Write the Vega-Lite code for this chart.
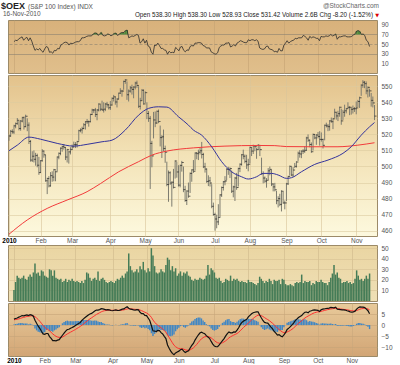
{
"$schema":"https://vega.github.io/schema/vega-lite/v6.json",
"padding":{"left":1,"top":1,"right":0,"bottom":0},
"background":"#ffffff",
"spacing":0,
"config":{"font":"Liberation Sans","view":{"stroke":"#9c8a68","strokeWidth":1},
"axis":{"labelFont":"Liberation Sans","labelFontSize":6.5,"labelColor":"#555","domain":false,"ticks":false,"gridWidth":0.6},
"axisY":{"labelPadding":4,"labelOverlap":false},
"axisX":{"labelPadding":1}},
"datasets":{
"d":[
{"t":0,"h":520,"l":516,"c":519,"v":10.4,"r":55,"m":2.7,"s":2.4,"g":0.3},
{"t":1,"h":522.8,"l":518.5,"c":521.9,"v":18,"r":58,"m":3.0,"s":2.5,"g":0.5},
{"t":2,"h":523.2,"l":520.4,"c":521.5,"v":24,"r":57,"m":3.2,"s":2.6,"g":0.6},
{"t":3,"h":526.0,"l":520.2,"c":525.3,"v":22,"r":61,"m":3.6,"s":2.8,"g":0.8},
{"t":4,"h":527.4,"l":523.8,"c":526.7,"v":21,"r":63,"m":3.9,"s":3.0,"g":0.9},
{"t":5,"h":530.2,"l":526.0,"c":528.8,"v":22,"r":65,"m":4.3,"s":3.3,"g":1.0},
{"t":6,"h":528.5,"l":522.5,"c":523.7,"v":24,"r":58,"m":4.2,"s":3.5,"g":0.7},
{"t":7,"h":529.0,"l":522.3,"c":528.3,"v":21,"r":62,"m":4.4,"s":3.7,"g":0.7},
{"t":8,"h":531.0,"l":527.5,"c":530.4,"v":20,"r":64,"m":4.6,"s":3.9,"g":0.7},
{"t":9,"h":531.2,"l":523.0,"c":524.8,"v":23,"r":57,"m":4.3,"s":4.0,"g":0.3},
{"t":10,"h":532.3,"l":524.5,"c":531.3,"v":25,"r":63,"m":4.7,"s":4.1,"g":0.6},
{"t":11,"h":530.0,"l":522.0,"c":525.8,"v":23,"r":56,"m":4.5,"s":4.2,"g":0.3},
{"t":12,"h":527.5,"l":514.0,"c":515.6,"v":27,"r":46,"m":4.0,"s":4.2,"g":-0.2},
{"t":13,"h":516.5,"l":503.0,"c":504.0,"v":35.6,"r":37,"m":2.2,"s":3.8,"g":-1.6},
{"t":14,"h":509.5,"l":502.8,"c":506.4,"v":26,"r":40,"m":0.8,"s":3.2,"g":-2.4},
{"t":15,"h":510.0,"l":502.5,"c":504.5,"v":27,"r":38,"m":-0.5,"s":2.5,"g":-3.0},
{"t":16,"h":508.5,"l":500.5,"c":506.8,"v":24,"r":41,"m":-1.5,"s":1.7,"g":-3.2},
{"t":17,"h":508.0,"l":499.5,"c":500.8,"v":29,"r":36,"m":-2.8,"s":0.8,"g":-3.6},
{"t":18,"h":506.0,"l":494.8,"c":496.2,"v":28,"r":33,"m":-4.0,"s":-0.2,"g":-3.8},
{"t":19,"h":504.0,"l":496.0,"c":503.6,"v":24,"r":40,"m":-4.2,"s":-1.0,"g":-3.2},
{"t":20,"h":510.8,"l":503.0,"c":509.6,"v":23,"r":45,"m":-3.8,"s":-1.6,"g":-2.2},
{"t":21,"h":510.0,"l":505.5,"c":507.3,"v":22,"r":43,"m":-3.8,"s":-2.0,"g":-1.8},
{"t":22,"h":507.2,"l":490.5,"c":491.1,"v":30,"r":33,"m":-5.2,"s":-2.6,"g":-2.6},
{"t":23,"h":493.0,"l":482.8,"c":492.5,"v":29,"r":34,"m":-6.0,"s":-3.3,"g":-2.7},
{"t":24,"h":494.0,"l":487.0,"c":487.9,"v":24,"r":31,"m":-7.0,"s":-4.0,"g":-3.0},
{"t":25,"h":496.5,"l":487.5,"c":494.3,"v":29,"r":37,"m":-7.0,"s":-4.6,"g":-2.4},
{"t":26,"h":497.0,"l":490.5,"c":493.4,"v":22,"r":36,"m":-7.1,"s":-5.1,"g":-2.0},
{"t":27,"h":498.5,"l":490.8,"c":498.0,"v":21,"r":41,"m":-6.8,"s":-5.4,"g":-1.4},
{"t":28,"h":497.5,"l":490.8,"c":496.7,"v":20,"r":40,"m":-6.6,"s":-5.6,"g":-1.0},
{"t":29,"h":506.3,"l":497.0,"c":505.9,"v":21,"r":48,"m":-5.6,"s":-5.6,"g":0.0},
{"t":30,"h":508.8,"l":504.5,"c":508.2,"v":18,"r":50,"m":-4.6,"s":-5.4,"g":0.8},
{"t":31,"h":511.9,"l":507.0,"c":511.4,"v":19,"r":53,"m":-3.6,"s":-5.0,"g":1.4},
{"t":32,"h":513.0,"l":509.2,"c":512.4,"v":21,"r":54,"m":-2.7,"s":-4.5,"g":1.8},
{"t":33,"h":514.0,"l":510.5,"c":511.9,"v":18,"r":53,"m":-2.0,"s":-4.0,"g":2.0},
{"t":34,"h":512.0,"l":504.0,"c":505.9,"v":20,"r":48,"m":-1.9,"s":-3.6,"g":1.7},
{"t":35,"h":511.0,"l":502.5,"c":510.5,"v":19,"r":52,"m":-1.4,"s":-3.2,"g":1.8},
{"t":36,"h":509.8,"l":501.8,"c":509.1,"v":21,"r":51,"m":-1.1,"s":-2.8,"g":1.7},
{"t":37,"h":512.0,"l":507.5,"c":510.5,"v":19,"r":52,"m":-0.7,"s":-2.4,"g":1.7},
{"t":38,"h":513.7,"l":510.3,"c":512.2,"v":18,"r":54,"m":-0.2,"s":-2.0,"g":1.8},
{"t":39,"h":515.5,"l":511.8,"c":513.6,"v":19,"r":55,"m":0.3,"s":-1.5,"g":1.8},
{"t":40,"h":515.2,"l":511.5,"c":513.6,"v":18,"r":55,"m":0.7,"s":-1.1,"g":1.8},
{"t":41,"h":516.0,"l":511.8,"c":515.5,"v":17,"r":57,"m":1.2,"s":-0.6,"g":1.8},
{"t":42,"h":522.9,"l":516.0,"c":522.3,"v":19,"r":63,"m":2.1,"s":-0.1,"g":2.2},
{"t":43,"h":523.8,"l":521.3,"c":522.8,"v":17,"r":63,"m":2.8,"s":0.5,"g":2.3},
{"t":44,"h":524.8,"l":520.5,"c":523.7,"v":20,"r":64,"m":3.4,"s":1.1,"g":2.3},
{"t":45,"h":527.0,"l":523.2,"c":526.0,"v":27,"r":66,"m":4.0,"s":1.7,"g":2.3},
{"t":46,"h":528.3,"l":523.0,"c":527.9,"v":26,"r":67,"m":4.6,"s":2.3,"g":2.3},
{"t":47,"h":529.6,"l":526.5,"c":527.9,"v":22,"r":67,"m":5.0,"s":2.8,"g":2.2},
{"t":48,"h":528.6,"l":524.8,"c":527.9,"v":19,"r":67,"m":5.3,"s":3.3,"g":2.0},
{"t":49,"h":532.9,"l":527.5,"c":532.4,"v":21,"r":71,"m":5.8,"s":3.8,"g":2.0},
{"t":50,"h":536.0,"l":532.0,"c":535.2,"v":22,"r":73,"m":6.4,"s":4.3,"g":2.1},
{"t":51,"h":535.8,"l":533.4,"c":535.2,"v":20,"r":73,"m":6.8,"s":4.8,"g":2.0},
{"t":52,"h":536.5,"l":530.8,"c":532.4,"v":28,"r":68,"m":6.8,"s":5.2,"g":1.6},
{"t":53,"h":535.8,"l":528.8,"c":535.2,"v":19,"r":71,"m":7.0,"s":5.6,"g":1.4},
{"t":54,"h":539.4,"l":534.3,"c":538.9,"v":21,"r":74,"m":7.4,"s":6.0,"g":1.4},
{"t":55,"h":538.7,"l":534.5,"c":535.7,"v":22,"r":68,"m":7.3,"s":6.3,"g":1.0},
{"t":56,"h":541.0,"l":534.8,"c":535.2,"v":20,"r":67,"m":7.1,"s":6.5,"g":0.6},
{"t":57,"h":540.0,"l":533.6,"c":535.7,"v":18,"r":68,"m":6.9,"s":6.6,"g":0.3},
{"t":58,"h":539.6,"l":534.5,"c":538.9,"v":17,"r":71,"m":7.0,"s":6.7,"g":0.3},
{"t":59,"h":540.3,"l":536.6,"c":538.4,"v":18,"r":70,"m":6.9,"s":6.7,"g":0.2},
{"t":60,"h":539.0,"l":535.5,"c":536.6,"v":19,"r":67,"m":6.6,"s":6.7,"g":-0.1},
{"t":61,"h":540.8,"l":535.2,"c":538.3,"v":18,"r":69,"m":6.5,"s":6.7,"g":-0.2},
{"t":62,"h":543.0,"l":538.0,"c":542.5,"v":17,"r":72,"m":6.7,"s":6.7,"g":0.0},
{"t":63,"h":544.6,"l":540.5,"c":543.4,"v":19,"r":73,"m":6.9,"s":6.7,"g":0.2},
{"t":64,"h":543.6,"l":538.5,"c":540.2,"v":21,"r":68,"m":6.7,"s":6.7,"g":0.0},
{"t":65,"h":542.6,"l":536.8,"c":542.0,"v":20,"r":70,"m":6.6,"s":6.7,"g":-0.1},
{"t":66,"h":546.0,"l":541.8,"c":545.7,"v":22,"r":73,"m":6.9,"s":6.7,"g":0.2},
{"t":67,"h":548.8,"l":545.2,"c":547.0,"v":24,"r":74,"m":7.2,"s":6.8,"g":0.4},
{"t":68,"h":547.8,"l":543.5,"c":547.0,"v":22,"r":74,"m":7.3,"s":6.9,"g":0.4},
{"t":69,"h":553.5,"l":547.8,"c":553.0,"v":26,"r":78,"m":7.9,"s":7.1,"g":0.8},
{"t":70,"h":554.5,"l":551.5,"c":553.9,"v":28,"r":79,"m":8.3,"s":7.3,"g":1.0},
{"t":71,"h":553.0,"l":541.5,"c":544.7,"v":45,"r":63,"m":7.6,"s":7.4,"g":0.2},
{"t":72,"h":548.0,"l":540.5,"c":547.0,"v":33,"r":65,"m":7.2,"s":7.4,"g":-0.2},
{"t":73,"h":550.2,"l":546.0,"c":549.0,"v":29,"r":67,"m":7.1,"s":7.3,"g":-0.2},
{"t":74,"h":551.0,"l":544.8,"c":548.0,"v":27,"r":66,"m":6.9,"s":7.2,"g":-0.3},
{"t":75,"h":550.0,"l":542.5,"c":549.5,"v":28,"r":68,"m":6.8,"s":7.1,"g":-0.3},
{"t":76,"h":552.8,"l":548.0,"c":552.0,"v":30,"r":70,"m":7.0,"s":7.1,"g":-0.1},
{"t":77,"h":553.5,"l":549.0,"c":550.5,"v":27,"r":68,"m":6.9,"s":7.1,"g":-0.2},
{"t":78,"h":550.0,"l":536.5,"c":537.5,"v":33,"r":52,"m":5.8,"s":6.8,"g":-1.0},
{"t":79,"h":542.8,"l":535.5,"c":541.0,"v":30,"r":55,"m":5.2,"s":6.5,"g":-1.3},
{"t":80,"h":548.3,"l":541.0,"c":547.5,"v":37,"r":61,"m":5.2,"s":6.2,"g":-1.0},
{"t":81,"h":548.0,"l":538.5,"c":539.0,"v":29,"r":52,"m":4.4,"s":5.8,"g":-1.4},
{"t":82,"h":546.8,"l":539.5,"c":546.0,"v":27,"r":58,"m":4.3,"s":5.5,"g":-1.2},
{"t":83,"h":540.0,"l":529.5,"c":533.0,"v":31,"r":46,"m":3.2,"s":5.0,"g":-1.8},
{"t":84,"h":534.5,"l":527.8,"c":530.0,"v":28,"r":44,"m":2.1,"s":4.4,"g":-2.3},
{"t":85,"h":531.5,"l":486.0,"c":514.4,"v":50,"r":33,"m":-0.2,"s":3.5,"g":-3.7},
{"t":86,"h":516.0,"l":499.5,"c":506.6,"v":43,"r":29,"m":-2.6,"s":2.3,"g":-4.9},
{"t":87,"h":534.0,"l":517.5,"c":529.0,"v":33,"r":48,"m":-2.7,"s":1.3,"g":-4.0},
{"t":88,"h":534.3,"l":524.5,"c":527.1,"v":27,"r":47,"m":-2.9,"s":0.5,"g":-3.4},
{"t":89,"h":534.9,"l":526.5,"c":534.4,"v":26,"r":52,"m":-2.4,"s":-0.1,"g":-2.3},
{"t":90,"h":535.5,"l":527.0,"c":528.0,"v":27,"r":47,"m":-2.5,"s":-0.6,"g":-1.9},
{"t":91,"h":525.5,"l":512.5,"c":518.0,"v":30,"r":41,"m":-3.4,"s":-1.2,"g":-2.2},
{"t":92,"h":519.5,"l":505.3,"c":518.5,"v":28,"r":41,"m":-4.0,"s":-1.8,"g":-2.2},
{"t":93,"h":523.0,"l":509.5,"c":511.2,"v":27,"r":38,"m":-5.1,"s":-2.5,"g":-2.6},
{"t":94,"h":513.0,"l":502.3,"c":508.9,"v":34,"r":37,"m":-6.1,"s":-3.2,"g":-2.9},
{"t":95,"h":503.0,"l":487.7,"c":488.8,"v":41,"r":29,"m":-9.0,"s":-4.4,"g":-4.6},
{"t":96,"h":497.5,"l":478.0,"c":496.1,"v":39,"r":35,"m":-10.5,"s":-5.6,"g":-4.9},
{"t":97,"h":497.0,"l":488.5,"c":489.7,"v":29,"r":32,"m":-11.8,"s":-6.8,"g":-5.0},
{"t":98,"h":490.8,"l":475.0,"c":490.2,"v":33,"r":33,"m":-12.8,"s":-8.0,"g":-4.8},
{"t":99,"h":498.5,"l":486.3,"c":487.0,"v":28,"r":32,"m":-13.4,"s":-9.1,"g":-4.3},
{"t":100,"h":503.9,"l":492.5,"c":503.4,"v":31,"r":43,"m":-12.6,"s":-9.8,"g":-2.8},
{"t":101,"h":502.8,"l":493.0,"c":496.6,"v":24,"r":40,"m":-12.2,"s":-10.3,"g":-1.9},
{"t":102,"h":500.8,"l":487.5,"c":488.4,"v":26,"r":36,"m":-11.8,"s":-10.6,"g":-1.2},
{"t":103,"h":501.2,"l":487.0,"c":500.7,"v":28,"r":44,"m":-11.2,"s":-10.7,"g":-0.5},
{"t":104,"h":503.5,"l":496.8,"c":502.5,"v":24,"r":45,"m":-10.9,"s":-10.7,"g":-0.2},
{"t":105,"h":500.0,"l":484.0,"c":485.6,"v":27,"r":37,"m":-11.8,"s":-10.9,"g":-0.9},
{"t":106,"h":488.0,"l":478.0,"c":478.8,"v":26,"r":34,"m":-12.4,"s":-11.2,"g":-1.2},
{"t":107,"h":485.2,"l":476.0,"c":484.7,"v":28,"r":38,"m":-12.0,"s":-11.4,"g":-0.6},
{"t":108,"h":490.0,"l":480.5,"c":481.5,"v":24,"r":37,"m":-11.6,"s":-11.4,"g":-0.2},
{"t":109,"h":496.3,"l":483.5,"c":495.7,"v":23,"r":45,"m":-10.4,"s":-11.2,"g":0.8},
{"t":110,"h":498.3,"l":490.5,"c":497.9,"v":20,"r":47,"m":-9.2,"s":-10.8,"g":1.6},
{"t":111,"h":504.0,"l":496.0,"c":497.0,"v":19,"r":46,"m":-8.3,"s":-10.3,"g":2.0},
{"t":112,"h":508.8,"l":497.5,"c":508.4,"v":21,"r":52,"m":-6.8,"s":-9.6,"g":2.8},
{"t":113,"h":509.0,"l":504.5,"c":508.0,"v":20,"r":52,"m":-5.6,"s":-8.8,"g":3.2},
{"t":114,"h":510.5,"l":504.0,"c":508.9,"v":20,"r":53,"m":-4.5,"s":-7.9,"g":3.4},
{"t":115,"h":511.5,"l":507.5,"c":509.8,"v":22,"r":53,"m":-3.6,"s":-7.0,"g":3.4},
{"t":116,"h":515.3,"l":505.0,"c":507.5,"v":21,"r":52,"m":-3.2,"s":-6.2,"g":3.0},
{"t":117,"h":508.5,"l":499.0,"c":499.8,"v":20,"r":47,"m":-3.6,"s":-5.7,"g":2.1},
{"t":118,"h":502.3,"l":496.2,"c":498.4,"v":21,"r":46,"m":-3.9,"s":-5.3,"g":1.4},
{"t":119,"h":498.8,"l":489.8,"c":490.7,"v":24,"r":42,"m":-4.8,"s":-5.2,"g":0.4},
{"t":120,"h":494.5,"l":487.8,"c":491.1,"v":34,"r":42,"m":-5.4,"s":-5.2,"g":-0.2},
{"t":121,"h":493.5,"l":487.5,"c":489.7,"v":25,"r":42,"m":-6.0,"s":-5.4,"g":-0.6},
{"t":122,"h":489.0,"l":474.0,"c":475.2,"v":31,"r":34,"m":-7.4,"s":-5.8,"g":-1.6},
{"t":123,"h":477.5,"l":469.3,"c":470.1,"v":29,"r":32,"m":-8.6,"s":-6.4,"g":-2.2},
{"t":124,"h":471.2,"l":460.0,"c":467.3,"v":27,"r":30,"m":-9.5,"s":-7.0,"g":-2.5},
{"t":125,"h":470.0,"l":461.5,"c":465.5,"v":22,"r":29,"m":-9.8,"s":-7.6,"g":-2.2},
{"t":126,"h":476.5,"l":463.5,"c":468.2,"v":21,"r":32,"m":-9.8,"s":-8.0,"g":-1.8},
{"t":127,"h":482.8,"l":468.5,"c":482.3,"v":22,"r":43,"m":-9.0,"s":-8.2,"g":-0.8},
{"t":128,"h":487.5,"l":481.0,"c":486.9,"v":19,"r":46,"m":-8.0,"s":-8.2,"g":0.2},
{"t":129,"h":491.0,"l":485.0,"c":490.5,"v":17,"r":48,"m":-7.0,"s":-8.0,"g":1.0},
{"t":130,"h":494.0,"l":488.3,"c":491.0,"v":18,"r":48,"m":-6.1,"s":-7.6,"g":1.5},
{"t":131,"h":499.0,"l":491.5,"c":498.2,"v":21,"r":52,"m":-4.9,"s":-7.1,"g":2.2},
{"t":132,"h":499.8,"l":494.8,"c":498.2,"v":20,"r":52,"m":-3.9,"s":-6.5,"g":2.6},
{"t":133,"h":499.5,"l":492.8,"c":498.7,"v":19,"r":53,"m":-3.1,"s":-5.8,"g":2.7},
{"t":134,"h":497.5,"l":483.5,"c":484.6,"v":24,"r":44,"m":-3.5,"s":-5.3,"g":1.8},
{"t":135,"h":488.0,"l":480.8,"c":487.3,"v":19,"r":46,"m":-3.5,"s":-4.9,"g":1.4},
{"t":136,"h":493.5,"l":478.5,"c":492.8,"v":21,"r":49,"m":-3.1,"s":-4.5,"g":1.4},
{"t":137,"h":496.0,"l":485.5,"c":486.9,"v":20,"r":46,"m":-3.2,"s":-4.2,"g":1.0},
{"t":138,"h":499.3,"l":487.5,"c":498.7,"v":21,"r":52,"m":-2.3,"s":-3.8,"g":1.5},
{"t":139,"h":502.0,"l":496.5,"c":501.4,"v":19,"r":54,"m":-1.2,"s":-3.3,"g":2.1},
{"t":140,"h":507.8,"l":500.5,"c":507.3,"v":18,"r":57,"m":0.2,"s":-2.6,"g":2.8},
{"t":141,"h":510.5,"l":504.5,"c":506.4,"v":19,"r":56,"m":1.2,"s":-1.8,"g":3.0},
{"t":142,"h":507.5,"l":502.0,"c":503.2,"v":18,"r":54,"m":1.8,"s":-1.1,"g":2.9},
{"t":143,"h":507.3,"l":498.5,"c":501.0,"v":18,"r":53,"m":2.2,"s":-0.4,"g":2.6},
{"t":144,"h":504.8,"l":497.0,"c":501.4,"v":17,"r":53,"m":2.6,"s":0.2,"g":2.4},
{"t":145,"h":512.4,"l":502.0,"c":511.9,"v":20,"r":59,"m":3.7,"s":0.9,"g":2.8},
{"t":146,"h":511.8,"l":506.5,"c":509.6,"v":18,"r":57,"m":4.4,"s":1.6,"g":2.8},
{"t":147,"h":513.6,"l":507.8,"c":512.8,"v":18,"r":59,"m":5.1,"s":2.3,"g":2.8},
{"t":148,"h":512.9,"l":509.5,"c":512.3,"v":17,"r":59,"m":5.6,"s":3.0,"g":2.6},
{"t":149,"h":511.5,"l":504.8,"c":510.5,"v":16,"r":57,"m":5.8,"s":3.6,"g":2.2},
{"t":150,"h":514.0,"l":510.3,"c":513.2,"v":15,"r":59,"m":6.0,"s":4.1,"g":1.9},
{"t":151,"h":512.8,"l":506.5,"c":510.5,"v":17,"r":56,"m":6.0,"s":4.5,"g":1.5},
{"t":152,"h":505.5,"l":494.8,"c":495.5,"v":23,"r":42,"m":4.6,"s":4.5,"g":0.1},
{"t":153,"h":497.0,"l":489.5,"c":492.8,"v":21,"r":40,"m":3.3,"s":4.3,"g":-1.0},
{"t":154,"h":493.8,"l":489.8,"c":490.9,"v":19,"r":39,"m":2.1,"s":3.9,"g":-1.8},
{"t":155,"h":492.8,"l":486.8,"c":491.4,"v":17,"r":40,"m":1.2,"s":3.4,"g":-2.2},
{"t":156,"h":499.0,"l":491.5,"c":497.3,"v":19,"r":45,"m":1.0,"s":2.9,"g":-1.9},
{"t":157,"h":500.0,"l":494.5,"c":498.2,"v":18,"r":46,"m":0.9,"s":2.5,"g":-1.6},
{"t":158,"h":497.8,"l":487.8,"c":489.1,"v":21,"r":40,"m":0.0,"s":2.0,"g":-2.0},
{"t":159,"h":489.5,"l":484.5,"c":487.3,"v":19,"r":39,"m":-0.9,"s":1.4,"g":-2.3},
{"t":160,"h":489.8,"l":484.5,"c":485.5,"v":16,"r":38,"m":-1.7,"s":0.8,"g":-2.5},
{"t":161,"h":484.8,"l":476.5,"c":478.7,"v":20,"r":34,"m":-2.9,"s":0.1,"g":-3.0},
{"t":162,"h":481.5,"l":474.5,"c":480.0,"v":19,"r":35,"m":-3.6,"s":-0.6,"g":-3.0},
{"t":163,"h":483.0,"l":475.3,"c":476.4,"v":19,"r":33,"m":-4.5,"s":-1.4,"g":-3.1},
{"t":164,"h":485.2,"l":472.0,"c":484.6,"v":20,"r":41,"m":-4.3,"s":-2.0,"g":-2.3},
{"t":165,"h":484.5,"l":476.8,"c":477.3,"v":16,"r":36,"m":-4.9,"s":-2.6,"g":-2.3},
{"t":166,"h":478.8,"l":473.3,"c":477.3,"v":21,"r":36,"m":-5.3,"s":-3.1,"g":-2.2},
{"t":167,"h":489.8,"l":478.5,"c":489.2,"v":20,"r":48,"m":-4.4,"s":-3.4,"g":-1.0},
{"t":168,"h":494.2,"l":488.5,"c":493.8,"v":16,"r":52,"m":-3.4,"s":-3.4,"g":0.0},
{"t":169,"h":500.6,"l":494.3,"c":500.1,"v":15,"r":57,"m":-2.0,"s":-3.1,"g":1.1},
{"t":170,"h":499.8,"l":494.0,"c":494.7,"v":15,"r":52,"m":-1.4,"s":-2.8,"g":1.4},
{"t":171,"h":499.6,"l":493.5,"c":497.8,"v":16,"r":55,"m":-0.7,"s":-2.4,"g":1.7},
{"t":172,"h":502.2,"l":499.0,"c":500.1,"v":15,"r":57,"m":0.1,"s":-1.9,"g":2.0},
{"t":173,"h":503.3,"l":499.3,"c":502.8,"v":14,"r":58,"m":0.9,"s":-1.3,"g":2.2},
{"t":174,"h":509.3,"l":503.5,"c":508.3,"v":17,"r":62,"m":2.0,"s":-0.6,"g":2.6},
{"t":175,"h":510.2,"l":505.5,"c":507.8,"v":18,"r":61,"m":2.7,"s":0.1,"g":2.6},
{"t":176,"h":510.0,"l":505.2,"c":509.6,"v":17,"r":63,"m":3.4,"s":0.8,"g":2.6},
{"t":177,"h":510.8,"l":507.8,"c":509.6,"v":18,"r":63,"m":3.9,"s":1.4,"g":2.5},
{"t":178,"h":512.6,"l":508.5,"c":510.1,"v":25,"r":63,"m":4.3,"s":2.0,"g":2.3},
{"t":179,"h":518.5,"l":509.8,"c":517.8,"v":17,"r":68,"m":5.2,"s":2.6,"g":2.6},
{"t":180,"h":520.0,"l":515.3,"c":516.4,"v":19,"r":66,"m":5.8,"s":3.2,"g":2.6},
{"t":181,"h":516.8,"l":512.0,"c":513.7,"v":18,"r":63,"m":5.9,"s":3.7,"g":2.2},
{"t":182,"h":515.0,"l":508.5,"c":509.2,"v":18,"r":58,"m":5.6,"s":4.1,"g":1.5},
{"t":183,"h":520.5,"l":510.0,"c":520.0,"v":19,"r":66,"m":6.3,"s":4.5,"g":1.8},
{"t":184,"h":520.2,"l":517.0,"c":517.8,"v":15,"r":63,"m":6.5,"s":4.9,"g":1.6},
{"t":185,"h":520.2,"l":513.5,"c":519.6,"v":17,"r":65,"m":6.8,"s":5.3,"g":1.5},
{"t":186,"h":521.5,"l":517.5,"c":518.7,"v":16,"r":64,"m":6.9,"s":5.6,"g":1.3},
{"t":187,"h":522.0,"l":513.0,"c":516.9,"v":19,"r":62,"m":6.8,"s":5.8,"g":1.0},
{"t":188,"h":521.2,"l":515.5,"c":516.8,"v":18,"r":62,"m":6.7,"s":6.0,"g":0.7},
{"t":189,"h":517.4,"l":511.2,"c":513.2,"v":18,"r":57,"m":6.2,"s":6.0,"g":0.2},
{"t":190,"h":526.1,"l":516.3,"c":525.7,"v":20,"r":66,"m":6.9,"s":6.2,"g":0.7},
{"t":191,"h":527.3,"l":524.3,"c":525.2,"v":18,"r":65,"m":7.2,"s":6.4,"g":0.8},
{"t":192,"h":526.5,"l":522.0,"c":524.8,"v":17,"r":65,"m":7.3,"s":6.6,"g":0.7},
{"t":193,"h":528.9,"l":522.3,"c":528.4,"v":17,"r":67,"m":7.5,"s":6.8,"g":0.7},
{"t":194,"h":530.5,"l":527.3,"c":527.9,"v":15,"r":66,"m":7.6,"s":7.0,"g":0.6},
{"t":195,"h":530.3,"l":523.3,"c":529.7,"v":18,"r":67,"m":7.7,"s":7.1,"g":0.6},
{"t":196,"h":536.0,"l":530.3,"c":533.8,"v":22,"r":70,"m":8.0,"s":7.3,"g":0.7},
{"t":197,"h":534.0,"l":529.2,"c":531.5,"v":26,"r":67,"m":7.9,"s":7.4,"g":0.5},
{"t":198,"h":534.7,"l":528.3,"c":532.9,"v":34,"r":68,"m":7.8,"s":7.5,"g":0.3},
{"t":199,"h":537.3,"l":531.0,"c":536.9,"v":25,"r":71,"m":8.1,"s":7.6,"g":0.5},
{"t":200,"h":536.0,"l":526.0,"c":528.4,"v":27,"r":60,"m":7.2,"s":7.5,"g":-0.3},
{"t":201,"h":535.3,"l":529.0,"c":533.8,"v":22,"r":65,"m":7.1,"s":7.4,"g":-0.3},
{"t":202,"h":538.5,"l":531.0,"c":534.7,"v":21,"r":65,"m":7.0,"s":7.3,"g":-0.3},
{"t":203,"h":536.5,"l":533.1,"c":536.0,"v":17,"r":66,"m":6.9,"s":7.2,"g":-0.3},
{"t":204,"h":540.0,"l":536.0,"c":536.9,"v":18,"r":67,"m":6.9,"s":7.1,"g":-0.2},
{"t":205,"h":537.5,"l":532.0,"c":536.9,"v":18,"r":67,"m":6.8,"s":7.0,"g":-0.2},
{"t":206,"h":536.7,"l":532.3,"c":535.6,"v":19,"r":65,"m":6.5,"s":6.9,"g":-0.4},
{"t":207,"h":538.0,"l":533.0,"c":536.0,"v":17,"r":65,"m":6.3,"s":6.8,"g":-0.5},
{"t":208,"h":537.0,"l":534.0,"c":536.0,"v":18,"r":65,"m":6.0,"s":6.6,"g":-0.6},
{"t":209,"h":540.5,"l":532.5,"c":536.5,"v":16,"r":66,"m":5.9,"s":6.5,"g":-0.6},
{"t":210,"h":541.5,"l":537.0,"c":540.5,"v":17,"r":69,"m":6.0,"s":6.4,"g":-0.4},
{"t":211,"h":543.5,"l":536.5,"c":542.8,"v":21,"r":71,"m":6.3,"s":6.4,"g":-0.1},
{"t":212,"h":551.2,"l":544.0,"c":550.7,"v":29,"r":77,"m":7.2,"s":6.6,"g":0.6},
{"t":213,"h":553.8,"l":549.0,"c":552.5,"v":24,"r":78,"m":7.9,"s":6.9,"g":1.0},
{"t":214,"h":553.3,"l":548.8,"c":551.6,"v":20,"r":76,"m":8.2,"s":7.2,"g":1.0},
{"t":215,"h":553.0,"l":545.0,"c":547.1,"v":21,"r":70,"m":8.1,"s":7.4,"g":0.7},
{"t":216,"h":549.9,"l":543.0,"c":549.3,"v":19,"r":71,"m":8.1,"s":7.5,"g":0.6},
{"t":217,"h":548.5,"l":543.5,"c":547.1,"v":21,"r":68,"m":7.9,"s":7.6,"g":0.3},
{"t":218,"h":545.8,"l":537.3,"c":541.2,"v":24,"r":58,"m":7.2,"s":7.5,"g":-0.3},
{"t":219,"h":543.6,"l":536.8,"c":539.6,"v":21,"r":55,"m":6.5,"s":7.3,"g":-0.8},
{"t":220,"h":538.3,"l":528.9,"c":531.4,"v":26,"r":45,"m":5.1,"s":6.9,"g":-1.8}
],
"ma50":[
{"t":0,"a":509.8},{"t":5,"a":513.3},{"t":12,"a":518.3},{"t":19,"a":517.0},{"t":29,"a":514.4},{"t":39,"a":512.7},{"t":47,"a":513.8},{"t":56,"a":515.4},{"t":62,"a":516.4},{"t":70,"a":522.7},{"t":78,"a":532.0},{"t":84,"a":536.2},{"t":90,"a":537.2},{"t":95,"a":537.0},{"t":102,"a":531.0},{"t":108,"a":525.8},{"t":111,"a":522.7},{"t":116,"a":519.5},{"t":122,"a":512.3},{"t":128,"a":503.0},{"t":134,"a":496.7},{"t":140,"a":493.6},{"t":144,"a":492.2},{"t":149,"a":493.6},{"t":153,"a":495.7},{"t":158,"a":495.7},{"t":162,"a":494.7},{"t":167,"a":492.6},{"t":170,"a":493.0},{"t":176,"a":496.7},{"t":184,"a":501.3},{"t":192,"a":504.0},{"t":201,"a":508.2},{"t":206,"a":512.3},{"t":212,"a":519.5},{"t":217,"a":524.7},{"t":220,"a":527.4}
],
"ma200":[
{"t":0,"a":457.8},{"t":11,"a":466.7},{"t":23,"a":473.9},{"t":35,"a":479.1},{"t":47,"a":484.3},{"t":55,"a":489.3},{"t":66,"a":496.7},{"t":78,"a":503.0},{"t":86,"a":507.1},{"t":95,"a":509.6},{"t":111,"a":511.6},{"t":130,"a":512.7},{"t":150,"a":513.1},{"t":160,"a":513.0},{"t":167,"a":512.4},{"t":182,"a":512.3},{"t":198,"a":512.3},{"t":210,"a":513.3},{"t":220,"a":514.8}
]},
"vconcat":[
{"width":369,"height":18,"view":{"stroke":null,"fill":null},
"layer":[
{"data":{"values":[{"txt":"$OEX"}]},"mark":{"type":"text","align":"left","baseline":"alphabetic","fontSize":9,"fontWeight":"bold","color":"#222","dx":-7,"dy":7.5},
"encoding":{"x":{"datum":0,"type":"quantitative","scale":{"domain":[0,1],"nice":false},"axis":null},"y":{"datum":1,"type":"quantitative","scale":{"domain":[0,1],"nice":false},"axis":null},"text":{"field":"txt"}}},
{"data":{"values":[{"txt":"(S&P 100 Index)  INDX"}]},"mark":{"type":"text","align":"left","baseline":"alphabetic","fontSize":6.5,"color":"#555","dx":20,"dy":7.5},
"encoding":{"x":{"datum":0,"type":"quantitative","axis":null},"y":{"datum":1,"type":"quantitative","axis":null},"text":{"field":"txt"}}},
{"data":{"values":[{"txt":"16-Nov-2010"}]},"mark":{"type":"text","align":"left","baseline":"alphabetic","fontSize":6.5,"color":"#555","dx":-5,"dy":15},
"encoding":{"x":{"datum":0,"type":"quantitative","axis":null},"y":{"datum":1,"type":"quantitative","axis":null},"text":{"field":"txt"}}},
{"data":{"values":[{"txt":"@StockCharts.com"}]},"mark":{"type":"text","align":"right","baseline":"alphabetic","fontSize":6.5,"color":"#666","dx":2,"dy":7},
"encoding":{"x":{"datum":1,"type":"quantitative","axis":null},"y":{"datum":1,"type":"quantitative","axis":null},"text":{"field":"txt"}}},
{"data":{"values":[{"txt":"Open 538.30  High 538.30  Low 528.93  Close 531.42  Volume 2.6B  Chg -8.20 (-1.52%)"}]},"mark":{"type":"text","align":"right","baseline":"alphabetic","fontSize":6.3,"color":"#222","dx":-4,"dy":16},
"encoding":{"x":{"datum":1,"type":"quantitative","axis":null},"y":{"datum":1,"type":"quantitative","axis":null},"text":{"field":"txt"}}},
{"data":{"values":[{"txt":"▼"}]},"mark":{"type":"text","align":"right","baseline":"alphabetic","fontSize":5,"font":"DejaVu Sans","color":"#dd0000","dx":2,"dy":16},
"encoding":{"x":{"datum":1,"type":"quantitative","axis":null},"y":{"datum":1,"type":"quantitative","axis":null},"text":{"field":"txt"}}}
]},
{"width":369,"height":53,
"view":{"fill":{"gradient":"linear","x1":0,"y1":0,"x2":0,"y2":1,"stops":[{"offset":0,"color":"#d8b17b"},{"offset":1,"color":"#e0bf8c"}]}},
"encoding":{"x":{"field":"t","type":"quantitative","scale":{"domain":[-0.6,221.5],"nice":false,"zero":false},"axis":{"values":[0,19,38,61,82,102,124,145,167,188,209],"labels":false,"grid":true,"gridColor":"#c4a373","title":null}}},
"layer":[
{"data":{"name":"d"},"transform":[{"filter":"datum.r > 70"}],"mark":{"type":"bar","size":1.8,"color":"#4f8a3c"},
"encoding":{"y":{"field":"r","type":"quantitative","scale":{"domain":[-10,100],"nice":false,"zero":false},"axis":{"values":[10,30,50,70,90],"orient":"right","grid":true,"gridColor":"#8c8270","gridDash":{"condition":{"test":"datum.value==50","value":[3,2]},"value":[]},"gridOpacity":{"condition":{"test":"datum.value==10||datum.value==90","value":0},"value":1},"title":null}},
"y2":{"datum":70}}},
{"data":{"name":"d"},"mark":{"type":"line","color":"#2b2b2b","strokeWidth":0.8},
"encoding":{"y":{"field":"r","type":"quantitative","scale":{"domain":[-10,100],"nice":false,"zero":false},"axis":{"values":[10,30,50,70,90],"orient":"right","grid":true,"gridColor":"#8c8270","gridDash":{"condition":{"test":"datum.value==50","value":[3,2]},"value":[]},"gridOpacity":{"condition":{"test":"datum.value==10||datum.value==90","value":0},"value":1},"title":null}}}}
]},
{"width":369,"height":161,
"view":{"fill":{"gradient":"linear","x1":0,"y1":0,"x2":0,"y2":1,"stops":[{"offset":0,"color":"#e3c28b"},{"offset":0.5,"color":"#f3e3b8"},{"offset":1,"color":"#fdf9de"}]}},
"encoding":{"x":{"field":"t","type":"quantitative","scale":{"domain":[-0.6,221.5],"nice":false,"zero":false},"axis":{"values":[0,19,38,61,82,102,124,145,167,188,209],"labelFlush":false,"labelExpr":"['2010','Feb','Mar','Apr','May','Jun','Jul','Aug','Sep','Oct','Nov'][indexof([0,19,38,61,82,102,124,145,167,188,209], datum.value)]","labelFontWeight":{"condition":{"test":"datum.value == 0","value":"bold"},"value":"normal"},"labelColor":{"condition":{"test":"datum.value == 0","value":"#000"},"value":"#555"},"grid":true,"gridColor":"#d8c49a","title":null}}},
"layer":[
{"data":{"name":"d"},"mark":{"type":"rule","color":"#7d7c70","strokeWidth":1},
"encoding":{"y":{"field":"l","type":"quantitative","scale":{"domain":[456.7,557],"nice":false,"zero":false},"axis":{"values":[460,470,480,490,500,510,520,530,540,550],"orient":"right","grid":true,"gridColor":"#dccb9f","title":null}},
"y2":{"field":"h"}}},
{"data":{"name":"d"},"mark":{"type":"tick","orient":"horizontal","size":2,"thickness":1,"xOffset":1,"color":"#222"},
"encoding":{"y":{"field":"c","type":"quantitative","scale":{"domain":[456.7,557],"nice":false,"zero":false},"axis":{"values":[460,470,480,490,500,510,520,530,540,550],"orient":"right","grid":true,"gridColor":"#dccb9f","title":null}}}},
{"data":{"name":"ma200"},"mark":{"type":"line","color":"#f23b3b","strokeWidth":1,"interpolate":"monotone"},
"encoding":{"y":{"field":"a","type":"quantitative","scale":{"domain":[456.7,557],"nice":false,"zero":false},"axis":{"values":[460,470,480,490,500,510,520,530,540,550],"orient":"right","grid":true,"gridColor":"#dccb9f","title":null}}}},
{"data":{"name":"ma50"},"mark":{"type":"line","color":"#33339c","strokeWidth":1,"interpolate":"monotone"},
"encoding":{"y":{"field":"a","type":"quantitative","scale":{"domain":[456.7,557],"nice":false,"zero":false},"axis":{"values":[460,470,480,490,500,510,520,530,540,550],"orient":"right","grid":true,"gridColor":"#dccb9f","title":null}}}},
{"data":{"values":[{"txt":"$OEX (Daily)"}]},"mark":{"type":"text","align":"left","baseline":"top","fontSize":6.5,"color":"#555","dx":1,"dy":2},
"encoding":{"x":{"datum":-0.6,"type":"quantitative","scale":{"domain":[-0.6,221.5],"nice":false,"zero":false},"axis":{"values":[0,19,38,61,82,102,124,145,167,188,209],"labelFlush":false,"labelExpr":"['2010','Feb','Mar','Apr','May','Jun','Jul','Aug','Sep','Oct','Nov'][indexof([0,19,38,61,82,102,124,145,167,188,209], datum.value)]","labelFontWeight":{"condition":{"test":"datum.value == 0","value":"bold"},"value":"normal"},"labelColor":{"condition":{"test":"datum.value == 0","value":"#000"},"value":"#555"},"grid":true,"gridColor":"#d8c49a","title":null}},
"y":{"datum":557,"type":"quantitative","scale":{"domain":[456.7,557],"nice":false,"zero":false},"axis":{"values":[460,470,480,490,500,510,520,530,540,550],"orient":"right","grid":true,"gridColor":"#dccb9f","title":null}},"text":{"field":"txt"}}}
]},
{"width":369,"height":56,
"view":{"fill":{"gradient":"linear","x1":0,"y1":0,"x2":0,"y2":1,"stops":[{"offset":0,"color":"#ead5a2"},{"offset":1,"color":"#efe0b6"}]}},
"layer":[
{"data":{"name":"d"},"mark":{"type":"bar","size":1.5,"color":"#457c57"},
"encoding":{"x":{"field":"t","type":"quantitative","scale":{"domain":[-0.6,221.5],"nice":false,"zero":false},"axis":{"values":[0,19,38,61,82,102,124,145,167,188,209],"labels":false,"grid":true,"gridColor":"#cfb98c","title":null}},
"y":{"field":"v","type":"quantitative","scale":{"domain":[0,53],"nice":false},"axis":{"values":[10,20,30,40,50],"orient":"right","grid":true,"gridColor":"#d6c193","title":null}}}}
]},
{"width":369,"height":53,
"view":{"fill":{"gradient":"linear","x1":0,"y1":0,"x2":0,"y2":1,"stops":[{"offset":0,"color":"#e8ca9a"},{"offset":1,"color":"#d2a575"}]}},
"encoding":{"x":{"field":"t","type":"quantitative","scale":{"domain":[-0.6,221.5],"nice":false,"zero":false},"axis":{"values":[0,19,38,61,82,102,124,145,167,188,209],"labelFlush":false,"labelExpr":"['2010','Feb','Mar','Apr','May','Jun','Jul','Aug','Sep','Oct','Nov'][indexof([0,19,38,61,82,102,124,145,167,188,209], datum.value)]","labelFontWeight":{"condition":{"test":"datum.value == 0","value":"bold"},"value":"normal"},"labelColor":{"condition":{"test":"datum.value == 0","value":"#000"},"value":"#555"},"grid":true,"gridColor":"#c9a87c","title":null}}},
"layer":[
{"data":{"name":"d"},"mark":{"type":"bar","size":1.4,"color":"#3f86c4"},
"encoding":{"y":{"field":"g","type":"quantitative","scale":{"domain":[-14,10],"nice":false,"zero":false},"axis":{"values":[-10,-5,0,5],"orient":"right","grid":true,"gridColor":"#c6a478","title":null}},
"y2":{"datum":0}}},
{"data":{"name":"d"},"mark":{"type":"line","color":"#ff3030","strokeWidth":1},
"encoding":{"y":{"field":"s","type":"quantitative","scale":{"domain":[-14,10],"nice":false,"zero":false},"axis":{"values":[-10,-5,0,5],"orient":"right","grid":true,"gridColor":"#c6a478","title":null}}}},
{"data":{"name":"d"},"mark":{"type":"line","color":"#111","strokeWidth":1.2},
"encoding":{"y":{"field":"m","type":"quantitative","scale":{"domain":[-14,10],"nice":false,"zero":false},"axis":{"values":[-10,-5,0,5],"orient":"right","grid":true,"gridColor":"#c6a478","title":null}}}}
]}
]}
